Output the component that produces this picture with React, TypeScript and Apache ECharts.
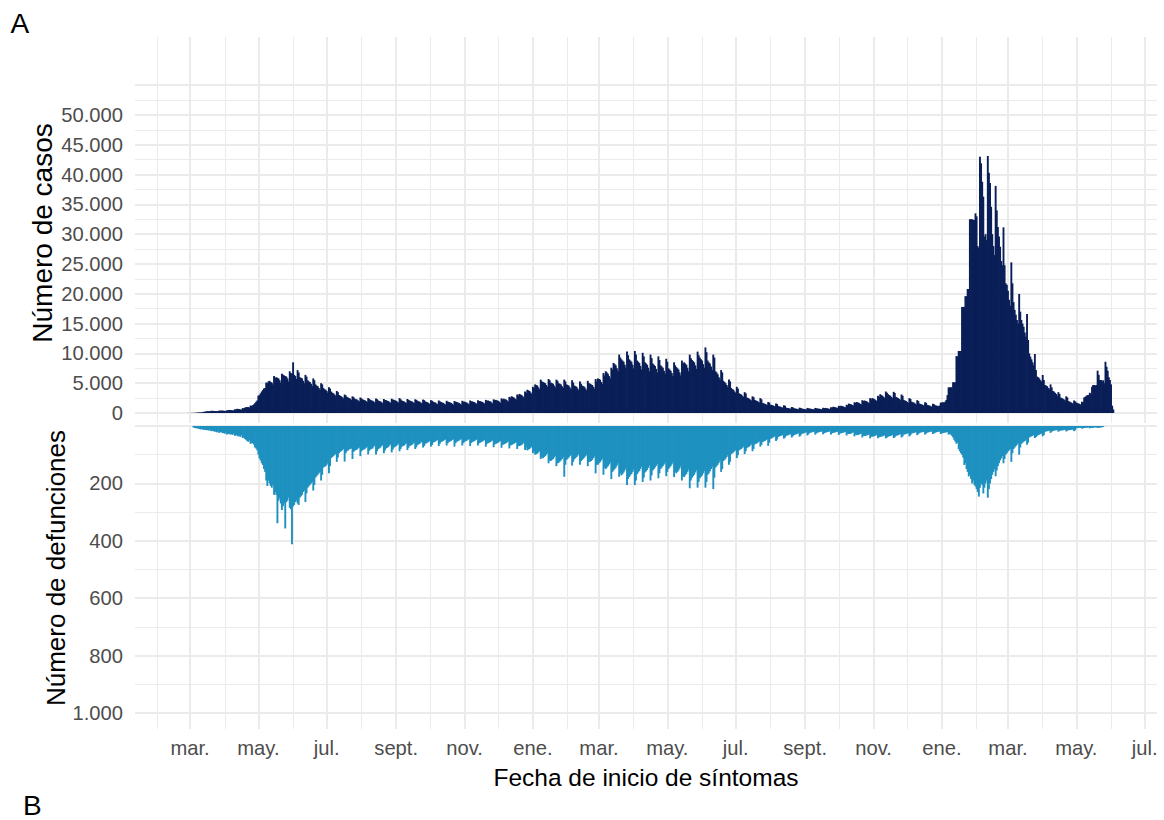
import React, { useEffect, useRef } from "react";
import * as echarts from "echarts";

// ---------- data ----------
const ORIGIN_DATE = "2020-03-01"; // x = 0
const CASES_START = "2020-02-23";
const DEATHS_START = "2020-03-04";

// daily confirmed cases by symptom onset (one row = one week)
const cases: number[] = [
  2, 3, 3, 4, 5, 8, 9,
  12, 15, 20, 22, 25, 45, 50,
  70, 85, 95, 110, 120, 190, 200,
  260, 280, 290, 300, 260, 380, 350,
  350, 340, 330, 310, 280, 400, 380,
  420, 400, 380, 360, 330, 480, 450,
  520, 500, 480, 450, 420, 620, 570,
  700, 680, 650, 600, 560, 820, 780,
  900, 950, 980, 1000, 900, 1250, 1200,
  1300, 1450, 1650, 1900, 2100, 2900, 3000,
  3300, 3600, 3850, 4100, 4200, 5100, 5000,
  5300, 5400, 5200, 5100, 4800, 6200, 5900,
  6000, 5900, 5800, 5500, 5100, 6600, 6400,
  6300, 6200, 6100, 5800, 5300, 7000, 6700,
  6600, 8500, 6400, 6200, 5700, 7200, 6800,
  6000, 5900, 5800, 5400, 5000, 6400, 6100,
  5500, 5300, 5200, 4900, 4500, 5800, 5500,
  4800, 4600, 4500, 4200, 3900, 5000, 4800,
  4200, 4000, 3900, 3700, 3400, 4300, 4100,
  3600, 3400, 3300, 3100, 2900, 3700, 3500,
  3000, 2900, 2800, 2650, 2450, 3100, 2950,
  2700, 2600, 2500, 2400, 2200, 2800, 2650,
  2400, 2300, 2250, 2100, 1950, 2600, 2450,
  2300, 2200, 2150, 2000, 1850, 2500, 2350,
  2200, 2100, 2050, 1900, 1750, 2450, 2300,
  2100, 2000, 1950, 1800, 1650, 2350, 2200,
  2150, 2050, 2000, 1850, 1700, 2400, 2250,
  2200, 2100, 2050, 1900, 1750, 2500, 2300,
  2100, 2000, 1950, 1800, 1650, 2350, 2200,
  2100, 2000, 1950, 1800, 1650, 2300, 2200,
  2050, 1950, 1900, 1750, 1600, 2250, 2150,
  1950, 1850, 1800, 1650, 1500, 2150, 2050,
  1900, 1800, 1750, 1600, 1450, 2100, 1950,
  1850, 1750, 1700, 1550, 1400, 2050, 1900,
  1850, 1750, 1700, 1550, 1400, 2000, 1900,
  1850, 1750, 1700, 1550, 1400, 2050, 1900,
  1900, 1800, 1750, 1600, 1450, 2100, 1950,
  1950, 1850, 1800, 1650, 1500, 2150, 2000,
  2000, 1900, 1850, 1700, 1550, 2200, 2050,
  2100, 2000, 1950, 1800, 1600, 2300, 2150,
  2200, 2100, 2050, 1900, 1700, 2450, 2300,
  2400, 2300, 2250, 2100, 1900, 2700, 2550,
  2800, 2700, 2600, 2450, 2250, 3100, 2950,
  3200, 3100, 3000, 2800, 2600, 3600, 3400,
  3900, 3800, 3700, 3450, 3200, 4400, 4200,
  4800, 4700, 4600, 4300, 4000, 5600, 5300,
  5200, 5100, 5000, 4700, 4400, 5700, 5500,
  5100, 5000, 4900, 4600, 4300, 5600, 5400,
  5000, 4900, 4800, 4500, 4200, 5600, 5300,
  4800, 4700, 4600, 4300, 4000, 5500, 5100,
  4600, 4500, 4400, 4100, 3800, 5300, 4900,
  4600, 4500, 4400, 4100, 3800, 5400, 5000,
  4900, 4800, 4700, 4400, 4100, 5700, 5300,
  5800, 5700, 5600, 5200, 4900, 6700, 6300,
  7000, 6800, 6600, 6200, 5800, 7600, 7300,
  8400, 8200, 8000, 7500, 7000, 9800, 9300,
  9000, 8800, 8600, 8100, 7600, 10300, 9700,
  9000, 8800, 8600, 8100, 7500, 10400, 9800,
  8800, 8600, 8400, 7900, 7300, 10100, 9500,
  8500, 8300, 8100, 7600, 7000, 9800, 9200,
  8300, 8100, 7900, 7400, 6800, 9500, 8900,
  8000, 7800, 7600, 7100, 6600, 9100, 8600,
  7500, 7300, 7100, 6700, 6200, 8500, 8000,
  7700, 7500, 7300, 6800, 6300, 8800, 8300,
  8500, 8300, 8100, 7600, 7000, 9800, 9200,
  8900, 8700, 8500, 8000, 7400, 10300, 9700,
  9300, 9000, 8800, 8200, 7600, 11000, 10200,
  8800, 8500, 8300, 7800, 7200, 9800, 9300,
  7000, 6800, 6500, 6000, 5600, 7200, 6800,
  5400, 5200, 5000, 4700, 4400, 5600, 5300,
  4200, 4000, 3900, 3600, 3400, 4400, 4100,
  3300, 3200, 3100, 2900, 2700, 3500, 3300,
  2600, 2500, 2400, 2250, 2100, 2800, 2650,
  2200, 2100, 2000, 1900, 1750, 2500, 2300,
  1700, 1600, 1550, 1450, 1350, 1850, 1750,
  1400, 1350, 1300, 1200, 1100, 1600, 1500,
  1150, 1100, 1050, 950, 900, 1300, 1200,
  900, 850, 820, 770, 700, 1000, 950,
  790, 750, 720, 680, 620, 900, 840,
  740, 700, 680, 640, 580, 850, 790,
  740, 700, 680, 640, 580, 850, 790,
  760, 720, 700, 650, 600, 870, 810,
  850, 800, 780, 720, 660, 960, 900,
  1050, 1000, 960, 900, 820, 1200, 1120,
  1200, 1150, 1100, 1020, 940, 1380, 1290,
  1580, 1500, 1450, 1350, 1250, 1800, 1700,
  1850, 1750, 1700, 1550, 1450, 2150, 2000,
  2100, 2000, 1950, 1800, 1650, 2500, 2300,
  2500, 2400, 2300, 2150, 2000, 2900, 2700,
  3150, 3000, 2900, 2700, 2500, 3600, 3400,
  3150, 3000, 2900, 2700, 2500, 3550, 3350,
  2700, 2600, 2500, 2350, 2150, 3100, 2900,
  2200, 2100, 2000, 1850, 1700, 2500, 2350,
  1900, 1800, 1750, 1600, 1450, 2150, 2000,
  1600, 1500, 1450, 1350, 1250, 1800, 1700,
  1350, 1300, 1250, 1150, 1050, 1550, 1450,
  1300, 1250, 1200, 1150, 1250, 1750, 1750,
  1800, 1750, 1900, 2200, 3000, 4300, 4300,
  4300, 4300, 5150, 5150, 5150, 9560, 9500,
  10400, 10400, 10400, 17800, 17800, 17800, 19600,
  19600, 20800, 20800, 32500, 32500, 32500, 32400,
  32400, 33500, 33000, 28000, 27700, 43000, 41900,
  38800, 36300, 29600, 30000, 29000, 43100, 40300,
  38600, 34600, 30000, 28000, 26500, 38100, 34000,
  31200, 29600, 27900, 25500, 24800, 31150, 24800,
  21760, 21500, 20500, 19000, 18000, 25280, 21760,
  18600, 17300, 16500, 15600, 15000, 19970, 17000,
  15600, 15000, 14480, 13500, 12800, 16600, 12250,
  10000, 9450, 9000, 8500, 8000, 9900, 7200,
  6100, 6000, 5800, 5500, 5300, 6380, 5540,
  4700, 4600, 4500, 4200, 4000, 4800, 4300,
  3700, 3600, 3400, 3200, 2900, 3500, 3200,
  2600, 2500, 2400, 2250, 2100, 2800, 2600,
  2000, 1900, 1800, 1700, 1550, 2100, 1950,
  1750, 1650, 1600, 1500, 1400, 1900, 1800,
  2600, 2700, 2900, 3000, 3000, 3400, 3200,
  4400, 4700, 4700, 4600, 4700, 7100, 6400,
  5540, 5540, 5300, 5500, 5000, 8600, 7770,
  7100, 6000, 5540, 4800, 1230, 600,
];

// daily deaths by symptom onset (one row = one week)
const deaths: number[] = [
  5, 6, 8, 7,
  9, 10, 11, 12, 10, 14, 13,
  13, 15, 14, 16, 14, 18, 17,
  18, 20, 19, 22, 18, 24, 21,
  22, 25, 24, 27, 23, 30, 28,
  27, 30, 28, 31, 26, 34, 32,
  33, 36, 35, 38, 32, 42, 40,
  45, 48, 52, 55, 50, 62, 60,
  60, 65, 75, 78, 85, 100, 113,
  120, 130, 136, 150, 160, 190, 209,
  190, 200, 209, 215, 205, 240, 230,
  240, 339, 260, 252, 270, 293, 280,
  270, 357, 265, 260, 250, 285, 290,
  412, 280, 275, 265, 260, 270, 275,
  250, 245, 240, 230, 225, 265, 235,
  215, 210, 205, 200, 195, 225, 205,
  180, 175, 170, 165, 160, 190, 170,
  145, 142, 140, 135, 130, 165, 140,
  112, 108, 105, 100, 98, 125, 110,
  95, 90, 88, 84, 80, 124, 95,
  88, 85, 82, 80, 78, 115, 90,
  86, 84, 82, 78, 75, 105, 88,
  84, 82, 80, 76, 72, 99, 86,
  82, 80, 78, 72, 68, 99, 88,
  80, 78, 75, 70, 66, 95, 85,
  78, 76, 73, 68, 64, 92, 82,
  75, 72, 70, 66, 62, 88, 80,
  72, 70, 68, 64, 60, 84, 76,
  70, 68, 66, 62, 58, 80, 74,
  66, 64, 62, 58, 55, 75, 70,
  62, 60, 58, 55, 52, 72, 66,
  58, 56, 54, 51, 48, 70, 62,
  56, 54, 52, 49, 46, 68, 60,
  56, 54, 52, 49, 46, 72, 60,
  55, 53, 51, 48, 45, 68, 59,
  55, 53, 51, 48, 45, 70, 59,
  56, 54, 52, 49, 46, 68, 60,
  58, 56, 54, 51, 48, 72, 62,
  60, 58, 56, 53, 50, 74, 64,
  62, 60, 58, 55, 52, 76, 66,
  64, 62, 60, 57, 54, 78, 68,
  66, 64, 62, 59, 56, 80, 70,
  70, 68, 66, 62, 58, 84, 75,
  85, 82, 80, 76, 72, 95, 90,
  100, 98, 96, 92, 88, 115, 108,
  112, 108, 105, 100, 95, 130, 120,
  122, 118, 115, 110, 104, 140, 130,
  128, 124, 120, 115, 108, 177, 135,
  118, 114, 110, 105, 100, 138, 125,
  116, 112, 108, 103, 98, 135, 122,
  118, 114, 110, 105, 100, 140, 125,
  125, 122, 118, 112, 106, 165, 135,
  135, 130, 126, 120, 114, 170, 145,
  150, 145, 140, 134, 127, 185, 160,
  155, 150, 145, 138, 130, 177, 165,
  172, 168, 162, 155, 147, 206, 185,
  178, 172, 167, 160, 152, 206, 190,
  168, 162, 157, 150, 142, 195, 180,
  162, 158, 153, 146, 138, 190, 172,
  155, 150, 145, 139, 132, 182, 165,
  150, 145, 140, 134, 127, 175, 160,
  150, 145, 140, 134, 127, 178, 160,
  165, 160, 155, 148, 140, 190, 175,
  178, 172, 167, 160, 152, 217, 190,
  180, 175, 170, 162, 155, 215, 195,
  182, 177, 172, 165, 157, 215, 195,
  170, 165, 158, 150, 142, 220, 180,
  145, 140, 135, 128, 120, 160, 150,
  122, 118, 114, 108, 102, 135, 125,
  98, 95, 92, 88, 84, 112, 102,
  85, 82, 80, 76, 72, 98, 88,
  76, 74, 72, 68, 64, 88, 80,
  64, 62, 60, 57, 54, 72, 66,
  56, 54, 52, 49, 46, 69, 58,
  45, 43, 41, 38, 36, 52, 47,
  38, 36, 35, 33, 31, 44, 40,
  34, 33, 32, 30, 28, 40, 36,
  31, 30, 29, 27, 25, 37, 33,
  27, 26, 25, 23, 22, 33, 29,
  24, 23, 22, 21, 19, 30, 26,
  23, 22, 21, 20, 18, 29, 25,
  23, 22, 21, 20, 18, 30, 25,
  24, 23, 22, 21, 19, 31, 26,
  25, 24, 23, 22, 20, 33, 27,
  28, 27, 26, 24, 22, 36, 30,
  32, 31, 30, 28, 26, 40, 34,
  35, 34, 33, 31, 29, 43, 37,
  37, 36, 35, 33, 31, 43, 39,
  38, 37, 36, 34, 32, 43, 40,
  37, 36, 35, 33, 31, 42, 39,
  34, 33, 32, 30, 28, 40, 36,
  30, 29, 28, 26, 25, 36, 32,
  26, 25, 24, 23, 22, 32, 28,
  24, 23, 22, 21, 20, 30, 26,
  23, 22, 21, 20, 19, 28, 25,
  23, 22, 21, 20, 19, 28, 25,
  24, 23, 23, 22, 21, 30, 27,
  30, 34, 40, 48, 55, 62, 58,
  80, 88, 95, 100, 110, 136, 130,
  150, 160, 176, 170, 185, 200, 190,
  205, 211, 220, 230, 246, 215, 200,
  206, 235, 215, 200, 190, 250, 220,
  200, 185, 170, 160, 150, 175, 155,
  140, 130, 120, 113, 105, 130, 115,
  100, 95, 89, 85, 80, 125, 95,
  80, 75, 70, 65, 60, 100, 75,
  62, 58, 55, 52, 48, 65, 58,
  40, 38, 36, 34, 32, 42, 38,
  34, 32, 30, 28, 26, 36, 32,
  20, 19, 18, 17, 16, 24, 20,
  17, 16, 15, 15, 14, 20, 17,
  16, 15, 15, 14, 13, 19, 16,
  15, 14, 14, 13, 12, 18, 15,
  8, 7, 7, 6, 6, 9, 8,
  7, 6, 6, 6, 5, 8, 7,
  6, 6, 5, 5, 5, 7, 6,
  5, 5, 4, 3,
];

// x-axis breaks
const majorMonths = [
  "2020-03-01", "2020-05-01", "2020-07-01", "2020-09-01", "2020-11-01",
  "2021-01-01", "2021-03-01", "2021-05-01", "2021-07-01", "2021-09-01", "2021-11-01",
  "2022-01-01", "2022-03-01", "2022-05-01", "2022-07-01",
];
const majorLabels = [
  "mar.", "may.", "jul.", "sept.", "nov.",
  "ene.", "mar.", "may.", "jul.", "sept.", "nov.",
  "ene.", "mar.", "may.", "jul.",
];
const minorMonths = [
  "2020-02-01", "2020-04-01", "2020-06-01", "2020-08-01", "2020-10-01", "2020-12-01",
  "2021-02-01", "2021-04-01", "2021-06-01", "2021-08-01", "2021-10-01", "2021-12-01",
  "2022-02-01", "2022-04-01", "2022-06-01",
];

// y-axis breaks
const caseMajorTicks = [0, 5000, 10000, 15000, 20000, 25000, 30000, 35000, 40000, 45000, 50000, 55000];
const caseLabelTicks = [0, 5000, 10000, 15000, 20000, 25000, 30000, 35000, 40000, 45000, 50000];
const caseMinorTicks = [2500, 7500, 12500, 17500, 22500, 27500, 32500, 37500, 42500, 47500, 52500];
const deathMajorTicks = [0, 200, 400, 600, 800, 1000];
const deathLabelTicks = [200, 400, 600, 800, 1000];
const deathMinorTicks = [100, 300, 500, 700, 900];

// ---------- helpers ----------
const DAY = 86400000;
const dayOf = (d: string) => (Date.parse(d) - Date.parse(ORIGIN_DATE)) / DAY;
const fmt = (v: number) => String(Math.round(v)).replace(/\B(?=(\d{3})+(?!\d))/g, ".");

const FONT = "'Liberation Sans', Arial, Helvetica, sans-serif";
const GRID_COLOR = "#EBEBEB";
const TICK_COLOR = "#4D4D4D";
const CASE_COLOR = "#0A1E57";
const DEATH_COLOR = "#1E91C0";
const TICK_SIZE = 20.2;
const TITLE_SIZE = 24.5;

const X_MIN = -49.1;
const X_MAX = 863.0;

export default function App() {
  const ref = useRef<HTMLDivElement>(null);

  useEffect(() => {
    if (!ref.current) return;
    const chart = echarts.init(ref.current, null, { renderer: "svg" });

    const majorDays = majorMonths.map(dayOf);
    const minorDays = minorMonths.map(dayOf);
    const labelMap: Record<number, string> = {};
    majorDays.forEach((d, i) => (labelMap[Math.round(d)] = majorLabels[i]));

    const c0 = dayOf(CASES_START);
    const d0 = dayOf(DEATHS_START);
    const caseData = cases.map((v, i) => [c0 + i, v]);
    const deathData = deaths.map((v, i) => [d0 + i, v]);

    const xAxis = (gridIndex: number, ticks: number[], width: number, labels: boolean) => ({
      type: "value",
      gridIndex,
      min: X_MIN,
      max: X_MAX,
      position: "bottom",
      axisLine: { show: false },
      axisTick: { show: false, customValues: ticks },
      axisLabel: labels
        ? {
            show: true,
            customValues: majorDays,
            formatter: (v: number) => labelMap[Math.round(v)] ?? "",
            color: TICK_COLOR,
            fontSize: TICK_SIZE,
            fontFamily: FONT,
            margin: 9,
          }
        : { show: false },
      splitLine: { show: true, lineStyle: { color: GRID_COLOR, width } },
    });

    const yAxis = (
      gridIndex: number,
      min: number,
      max: number,
      inverse: boolean,
      ticks: number[],
      width: number,
      labelTicks: number[] | null
    ) => ({
      type: "value",
      gridIndex,
      min,
      max,
      inverse,
      position: "left",
      axisLine: { show: false },
      axisTick: { show: false, customValues: ticks },
      axisLabel: labelTicks
        ? {
            show: true,
            customValues: labelTicks,
            formatter: (v: number) => fmt(v),
            color: TICK_COLOR,
            fontSize: TICK_SIZE,
            fontFamily: FONT,
            margin: 12,
          }
        : { show: false },
      splitLine: { show: true, lineStyle: { color: GRID_COLOR, width } },
    });

    const option: any = {
      animation: false,
      textStyle: { fontFamily: FONT },
      grid: [
        { left: 135, top: 37, width: 1022, height: 386 },
        { left: 135, top: 426, width: 1022, height: 303 },
      ],
      xAxis: [
        xAxis(0, majorDays, 2, false),
        xAxis(0, minorDays, 1, false),
        xAxis(1, majorDays, 2, true),
        xAxis(1, minorDays, 1, false),
      ],
      yAxis: [
        yAxis(0, -1678, 63087, false, caseMajorTicks, 2, caseLabelTicks),
        yAxis(0, -1678, 63087, false, caseMinorTicks, 1, null),
        yAxis(1, 0, 1056, true, deathMajorTicks, 2, deathLabelTicks),
        yAxis(1, 0, 1056, true, deathMinorTicks, 1, null),
      ],
      series: [
        {
          type: "bar",
          name: "casos",
          xAxisIndex: 0,
          yAxisIndex: 0,
          data: caseData,
          barWidth: 1.9,
          itemStyle: { color: CASE_COLOR },
          silent: true,
        },
        {
          type: "bar",
          name: "defunciones",
          xAxisIndex: 2,
          yAxisIndex: 2,
          data: deathData,
          barWidth: 1.9,
          itemStyle: { color: DEATH_COLOR },
          silent: true,
        },
      ],
      graphic: [
        {
          type: "text",
          x: 10.5,
          y: 23.5,
          style: { text: "A", fontSize: 28, fontFamily: FONT, fill: "#000", textAlign: "left", textVerticalAlign: "middle" },
        },
        {
          type: "text",
          x: 23,
          y: 805,
          style: { text: "B", fontSize: 28, fontFamily: FONT, fill: "#000", textAlign: "left", textVerticalAlign: "middle" },
        },
        {
          type: "text",
          x: 42,
          y: 233,
          rotation: Math.PI / 2,
          style: { text: "Número de casos", fontSize: 28, fontFamily: FONT, fill: "#000", textAlign: "center", textVerticalAlign: "middle" },
        },
        {
          type: "text",
          x: 56,
          y: 568,
          rotation: Math.PI / 2,
          style: { text: "Número de defunciones", fontSize: 26, fontFamily: FONT, fill: "#000", textAlign: "center", textVerticalAlign: "middle" },
        },
        {
          type: "text",
          x: 646,
          y: 777,
          style: { text: "Fecha de inicio de síntomas", fontSize: TITLE_SIZE, fontFamily: FONT, fill: "#000", textAlign: "center", textVerticalAlign: "middle" },
        },
      ],
    };

    chart.setOption(option);
    return () => chart.dispose();
  }, []);

  return (
    <div
      ref={ref}
      style={{ position: "fixed", left: 0, top: 0, width: 1164, height: 820, background: "#fff" }}
    />
  );
}
